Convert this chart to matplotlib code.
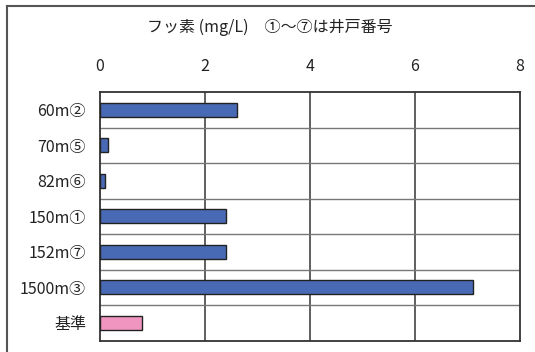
import numpy as np
import matplotlib
matplotlib.use("Agg")
import matplotlib.pyplot as plt
from matplotlib.lines import Line2D

plt.rcParams['font.family'] = ['Noto Sans CJK JP', 'DejaVu Sans']

# フッ素濃度 (mg/L)
labels = ["60m②", "70m⑤", "82m⑥", "150m①", "152m⑦", "1500m③", "基準"]
values = [2.6, 0.15, 0.1, 2.4, 2.4, 7.1, 0.8]
colors = ["#4869b3"] * 6 + ["#f095c0"]
xticks = [0, 2, 4, 6, 8]

W, H = 535, 352
fig = plt.figure(figsize=(W / 100, H / 100), dpi=100)
ax = fig.add_axes([100 / W, 1 - 340.5 / H, 420 / W, 248.5 / H])

y = np.arange(len(labels))
ax.barh(y, values, height=0.4, color=colors, edgecolor="#222222", linewidth=1.0, zorder=3)

ax.set_xlim(0, 8)
ax.set_ylim(len(labels) - 0.5, -0.5)
ax.set_yticks(y)
ax.set_yticklabels(labels, fontsize=11.5, color="#222222")
ax.set_xticks(xticks)
ax.xaxis.tick_top()
ax.set_xticklabels([str(t) for t in xticks], fontsize=11.5, color="#222222")
ax.tick_params(axis="x", length=0, pad=12)
ax.tick_params(axis="y", length=0, pad=10)

# 縦グリッド
for t in xticks[1:-1]:
    ax.axvline(t, color="#444444", lw=1.2, zorder=1)
# カテゴリ境界の横線
for b in np.arange(0.5, len(labels) - 1, 1.0):
    ax.axhline(b, color="#777777", lw=1.0, zorder=1)

for s in ax.spines.values():
    s.set_color("#333333")
    s.set_linewidth(1.3)

fig.text(270 / W, 1 - 27 / H, "フッ素 (mg/L)　①～⑦は井戸番号", ha="center", va="center",
         fontsize=11.5, color="#222222")

# 外枠
fig.add_artist(Line2D([7 / W, 7 / W], [0, 1 - 5.5 / H], transform=fig.transFigure,
                      color="#555555", lw=1.5))
fig.add_artist(Line2D([7 / W, 1], [1 - 5.5 / H, 1 - 5.5 / H], transform=fig.transFigure,
                      color="#555555", lw=1.5))

fig.savefig("out.png", dpi=100)
